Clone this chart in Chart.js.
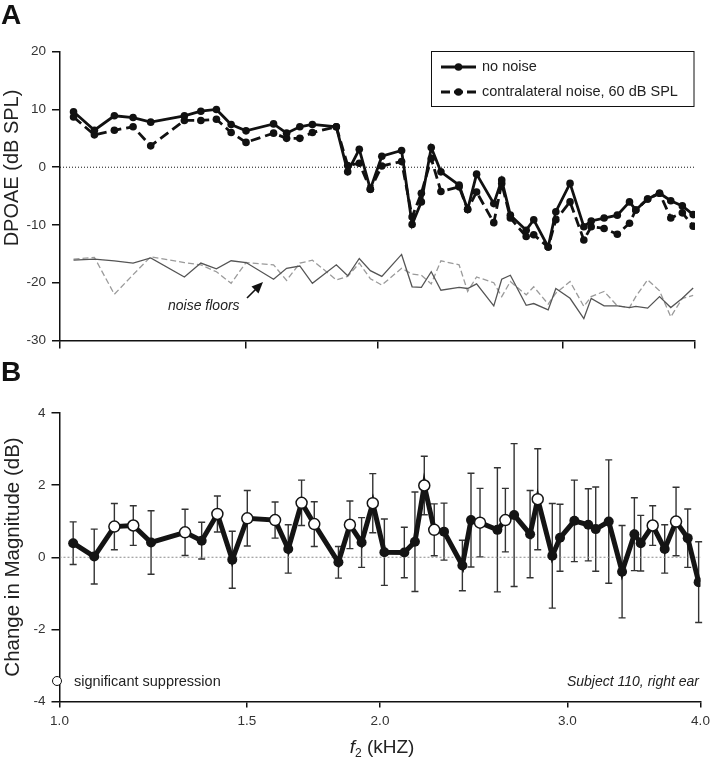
<!DOCTYPE html>
<html><head><meta charset="utf-8">
<script src="https://cdn.jsdelivr.net/npm/chart.js@4.4.1/dist/chart.umd.min.js"></script>
<style>
html,body{margin:0;padding:0;background:#fff;}
#wrap{position:relative;width:717px;height:767px;overflow:hidden;font-family:"Liberation Sans",Arial,sans-serif;color:#222;}
canvas{position:absolute;left:0;}
.lbl{position:absolute;white-space:nowrap;line-height:1;}
.rot{position:absolute;white-space:nowrap;line-height:1;transform:translate(-50%,-50%) rotate(-90deg);}
</style></head><body>
<div id="wrap">
<canvas id="cA" width="717" height="380" style="top:0px"></canvas>
<canvas id="cB" width="717" height="387" style="top:380px"></canvas>
<div class="lbl" style="left:1px;top:1px;font-weight:bold;font-size:28px;color:#111;">A</div>
<div class="lbl" style="left:1px;top:358px;font-weight:bold;font-size:28px;color:#111;">B</div>
<div class="rot" style="left:11px;top:168px;font-size:20px;">DPOAE (dB SPL)</div>
<div class="rot" style="left:12px;top:557px;font-size:20.5px;">Change in Magnitude (dB)</div>
<div class="lbl" style="left:168px;top:298px;font-size:14px;font-style:italic;">noise floors</div>
<div class="lbl" style="left:52px;top:676px;width:8px;height:8px;border:1.5px solid #111;border-radius:50%;background:#fff;"></div>
<div class="lbl" style="left:74px;top:674px;font-size:14.5px;">significant suppression</div>
<div class="lbl" style="right:18px;top:674px;font-size:14px;font-style:italic;">Subject 110, right ear</div>
<div class="lbl" style="left:382px;top:748px;font-size:19px;transform:translate(-50%,-50%);"><i>f</i><sub style="font-size:12px;">2</sub> (kHZ)</div>
</div>
<script>
// ---- data ----
const freqKHz = [1.030,1.078,1.126,1.173,1.219,1.312,1.360,1.407,1.453,1.501,
  1.594,1.640,1.688,1.735,1.828,1.874,1.922,1.969,2.019,2.108,
  2.157,2.201,2.249,2.297,2.390,2.435,2.483,2.578,2.623,2.673,
  2.767,2.813,2.903,2.952,3.045,3.138,3.189,3.280,3.376,3.467,
  3.515,3.607,3.702,3.794,3.891,3.984];
const noNoise = [9.6,6.4,8.9,8.6,7.8,8.9,9.7,10.0,7.4,6.3,
  7.5,5.9,7.0,7.4,7.0,-0.8,3.1,-3.8,1.9,2.9,
  -9.9,-6.0,3.4,-0.8,-3.1,-7.3,-1.2,-6.3,-2.2,-8.3,
  -10.9,-9.1,-13.8,-7.7,-2.8,-10.3,-9.3,-8.8,-8.3,-6.0,
  -7.4,-5.5,-4.5,-5.8,-6.7,-8.2];
const contraNoise = [8.7,5.6,6.4,7.0,3.7,8.1,8.1,8.3,6.0,4.3,
  5.9,5.0,5.0,6.0,7.0,0.3,0.7,-3.8,0.2,1.0,
  -8.6,-4.5,1.5,-4.2,-3.4,-7.3,-4.3,-9.6,-2.8,-8.8,
  -12.0,-11.7,-13.8,-9.1,-6.0,-12.6,-10.3,-10.6,-11.6,-9.7,
  -7.4,-5.5,-4.5,-8.8,-7.9,-10.2];
const floorNoNoise = [-16.1,-15.9,-16.2,-16.6,-15.7,-19.0,-16.6,-17.6,-16.2,-16.5,
  -19.4,-17.5,-17.1,-20.1,-16.9,-18.8,-15.8,-17.9,-18.9,-15.1,
  -20.7,-20.8,-18.1,-21.3,-20.8,-21.0,-20.2,-24.0,-19.4,-18.7,
  -23.9,-23.6,-24.7,-21.0,-22.7,-26.2,-22.7,-24.0,-24.0,-24.3,
  -24.1,-24.4,-22.4,-24.3,-22.7,-20.9];
const floorContra = [-15.9,-15.6,-22.0,-18.6,-15.5,-16.5,-16.9,-18.1,-20.1,-16.5,
  -16.9,-19.6,-16.6,-16.1,-19.5,-18.9,-16.6,-19.3,-20.4,-17.5,
  -18.5,-18.7,-20.2,-16.2,-16.9,-21.5,-19.0,-20.0,-22.4,-19.8,
  -22.1,-20.7,-23.7,-21.8,-19.8,-24.1,-22.4,-21.5,-24.0,-24.3,
  -22.4,-19.5,-21.4,-25.9,-22.7,-22.2];
const changeDb = [0.39,0.02,0.85,0.88,0.41,0.69,0.46,1.20,-0.07,1.08,
  1.03,0.23,1.51,0.92,-0.14,0.90,0.41,1.50,0.14,0.13,
  0.43,1.99,0.76,0.71,-0.23,1.03,0.96,0.76,1.03,1.17,
  0.64,1.61,0.04,0.54,1.01,0.90,0.78,0.99,-0.40,0.64,
  0.39,0.88,0.23,0.99,0.53,-0.69];
const changeErr = [0.59,0.76,0.64,0.55,0.88,0.64,0.51,0.50,0.79,0.77,
  0.50,0.67,0.63,0.62,0.44,0.66,0.69,0.82,0.92,0.70,
  1.38,0.81,0.72,0.79,0.70,1.30,0.95,1.72,0.88,1.98,
  1.21,1.40,1.45,0.93,1.13,1.00,1.17,1.71,1.28,1.01,
  0.77,0.55,0.67,0.95,0.81,1.12];
const significant = [0,0,1,1,0,1,0,1,0,1,
  1,0,1,1,0,1,0,1,0,0,
  0,1,1,0,0,0,1,0,1,0,
  0,1,0,0,0,0,0,0,0,0,
  0,1,0,1,0,0];
const xTickVals = [1.0,1.5,2.0,3.0,4.0];
const yTicksA = [-30,-20,-10,0,10,20];
const yTicksB = [-4,-2,0,2,4];
const legendLabels = ['no noise','contralateral noise, 60 dB SPL'];

// ---- helpers ----
const FONT = 'Liberation Sans';
function pts(vals){ return freqKHz.map((f,i)=>({x:f,y:vals[i]})); }
function zeroLine(){ return [{x:xTickVals[0],y:0},{x:xTickVals[xTickVals.length-1],y:0}]; }

function xScale(showLabels, tickLen, height){
  return {
    type:'logarithmic', min:1, max:4, position:'bottom',
    afterBuildTicks: s => { s.ticks = xTickVals.map(v=>({value:v})); },
    ticks:{display:showLabels, autoSkip:false, maxRotation:0, padding:6,
      font:{family:FONT,size:13.5}, color:'#333',
      callback:(v,i)=>xTickVals[i].toFixed(1)},
    grid:{display:true, drawOnChartArea:false, drawTicks:true, tickLength:tickLen, color:'#111', lineWidth:1.5},
    border:{display:true, color:'#111', width:1.5},
    afterFit: s => { s.height = height; s.paddingLeft = 0; s.paddingRight = 0; }
  };
}
function yScale(min,max,tickVals,width){
  return {
    type:'linear', min:min, max:max, position:'left',
    afterBuildTicks: s => { s.ticks = tickVals.map(v=>({value:v})); },
    ticks:{padding:6, font:{family:FONT,size:13.5}, color:'#333', callback:v=>String(v)},
    grid:{display:true, drawOnChartArea:false, drawTicks:true, tickLength:8, color:'#111', lineWidth:1.5},
    border:{display:true, color:'#111', width:1.5},
    afterFit: s => { s.width = width; s.paddingTop = 0; s.paddingBottom = 0; }
  };
}

// ---- plugins ----
const legendPlugin = {
  id:'boxLegend',
  afterDraw(chart){
    const c = chart.ctx;
    c.save();
    c.strokeStyle = '#111'; c.lineWidth = 1;
    c.strokeRect(431.5, 51.5, 262.5, 55);
    const rows = [{y:67, dash:[]},{y:92, dash:[9,4]}];
    rows.forEach((r,i)=>{
      c.beginPath(); c.setLineDash(r.dash); c.lineWidth = 3; c.strokeStyle = '#111';
      c.moveTo(441, r.y); c.lineTo(476, r.y); c.stroke();
      c.setLineDash([]);
      c.beginPath(); c.fillStyle = '#111'; c.arc(458.5, r.y, 3.8, 0, Math.PI*2); c.fill();
      c.font = '14.5px "' + FONT + '"'; c.textBaseline = 'middle'; c.textAlign = 'left';
      c.fillStyle = '#222';
      c.fillText(legendLabels[i], 482, r.y);
    });
    // arrow for "noise floors"
    c.beginPath(); c.strokeStyle = '#111'; c.lineWidth = 1.6;
    c.moveTo(247, 298); c.lineTo(256, 289); c.stroke();
    c.beginPath(); c.fillStyle = '#111';
    c.moveTo(263, 282); c.lineTo(251.5, 286.5); c.lineTo(258.5, 293.5); c.closePath(); c.fill();
    c.restore();
  }
};
const errorBarPlugin = {
  id:'errBars',
  beforeDatasetsDraw(chart){
    const c = chart.ctx, xs = chart.scales.x, ys = chart.scales.y;
    c.save();
    c.strokeStyle = '#333'; c.lineWidth = 1.4;
    freqKHz.forEach((f,i)=>{
      const x = xs.getPixelForValue(f);
      const y1 = ys.getPixelForValue(changeDb[i]+changeErr[i]);
      const y2 = ys.getPixelForValue(changeDb[i]-changeErr[i]);
      c.beginPath();
      c.moveTo(x,y1); c.lineTo(x,y2);
      c.moveTo(x-3.5,y1); c.lineTo(x+3.5,y1);
      c.moveTo(x-3.5,y2); c.lineTo(x+3.5,y2);
      c.stroke();
    });
    c.restore();
  }
};

const common = {responsive:false, animation:false, devicePixelRatio:1,
  plugins:{legend:{display:false}, tooltip:{enabled:false}}, events:[]};

// ---- panel A ----
new Chart(document.getElementById('cA'), {
  type:'line',
  data:{datasets:[
    {data:pts(noNoise), borderColor:'#111', backgroundColor:'#111', borderWidth:2.8,
     pointRadius:3.8, pointBackgroundColor:'#111', pointBorderWidth:0, order:0, tension:0},
    {data:pts(contraNoise), borderColor:'#111', backgroundColor:'#111', borderWidth:2.8, borderDash:[10,5],
     pointRadius:3.8, pointBackgroundColor:'#111', pointBorderWidth:0, order:1, tension:0},
    {data:pts(floorNoNoise), borderColor:'#555', borderWidth:1.3, pointRadius:0, order:2, tension:0},
    {data:pts(floorContra), borderColor:'#9a9a9a', borderWidth:1.3, borderDash:[6,3], pointRadius:0, order:3, tension:0},
    {data:zeroLine(), borderColor:'#111', borderWidth:1, borderDash:[1,2], pointRadius:0, order:4}
  ]},
  options:Object.assign({}, common, {
    layout:{padding:{top:51.7, right:22, left:0, bottom:0}},
    scales:{x:xScale(false, 8, 39.5), y:yScale(-30,20,yTicksA,60)}
  }),
  plugins:[legendPlugin]
});

// ---- panel B ----
new Chart(document.getElementById('cB'), {
  type:'line',
  data:{datasets:[
    {data:pts(changeDb), borderColor:'#141414', borderWidth:5,
     pointRadius:significant.map(s=>s?5.5:5),
     pointBackgroundColor:significant.map(s=>s?'#fff':'#141414'),
     pointBorderColor:'#141414', pointBorderWidth:significant.map(s=>s?1.5:0),
     order:0, tension:0},
    {data:zeroLine(), borderColor:'#8a8a8a', borderWidth:1, borderDash:[2,2], pointRadius:0, order:1}
  ]},
  options:Object.assign({}, common, {
    layout:{padding:{top:33, right:16.5, left:0, bottom:0}},
    scales:{x:xScale(true, 6, 65.5), y:yScale(-4,4,yTicksB,59.5)}
  }),
  plugins:[errorBarPlugin]
});
</script>
</body></html>
